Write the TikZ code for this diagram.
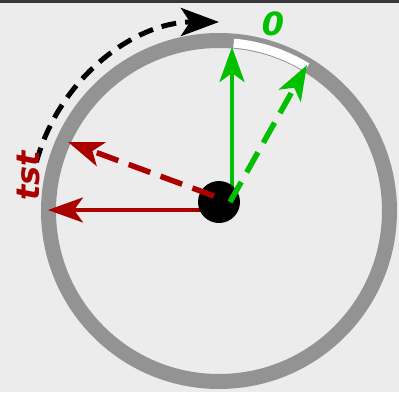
\documentclass[tikz,border=0pt]{standalone}
\usepackage{fontspec}
\setsansfont{DejaVu Sans}
\usetikzlibrary{arrows.meta,calc}
\definecolor{bgGrey}{RGB}{236,236,236}
\definecolor{ringGrey}{RGB}{147,147,147}
\definecolor{frameGrey}{RGB}{55,55,55}
\definecolor{dirGreen}{RGB}{0,192,0}
\definecolor{dirRed}{RGB}{170,0,0}
\tikzset{dialpanel/.style={
  x=1pt, y=1pt,
  ring/.style={draw=ringGrey, line width=15pt},
  gap/.style={draw=white, line width=9pt},
  hubdot/.style={circle, fill=black, draw=none, minimum size=42pt, inner sep=0pt},
  ray/.style={-{Stealth[length=35pt, width=25pt, inset=9pt]}, line width=4pt},
  dashray/.style={ray, line width=5.5pt, dash pattern=on 23pt off 11pt},
  sweep/.style={-{Stealth[length=38pt, width=28pt, inset=9pt]}, line width=5pt, dash pattern=on 15pt off 9pt},
  lab/.style={font=\fontsize{32}{32}\selectfont\sffamily\bfseries\itshape, inner sep=0pt},
}}

\begin{document}
\begin{tikzpicture}[dialpanel]
% ---- frame ----
\useasboundingbox[fill=bgGrey] (-219,-181) rectangle (180,211);
\draw[frameGrey, line width=3pt] (-219,209.5) -- (180,209.5);

% ---- dial ring with the zero gap ----
\draw[ring] (0,0) circle[radius=170.5];
\draw[gap] (58.5:168.5) arc[start angle=58.5, end angle=85, radius=168.5];

% ---- end points ----
\coordinate (gTop)  at (13,164);
\coordinate (gTilt) at (88,146);
\coordinate (rLeft) at (-171,1);
\coordinate (rTilt) at (-151,69);

% ---- solid rays (under the hub) ----
\draw[ray, dirGreen] (13,9) -- (gTop);
\draw[ray, dirRed]   (0,1)  -- (rLeft);

% ---- hub ----
\node[hubdot] (hub) at (0,9) {};

% ---- dashed rays (over the hub) ----
\draw[dashray, dirGreen] ($(hub.center)+(11,0)$) -- (gTilt);
\draw[dashray, dirRed]   ($(hub.center)+(-5,6)$) -- (rTilt);

% ---- sweep arrow ----
\draw[sweep] (165:189) arc[start angle=165, end angle=90, radius=189];

% ---- labels ----
\node[lab, text=dirGreen] (zero) at (54,187) {0};
\node[lab, text=dirRed, rotate=90] (tstlab) at (-191,35) {tst};
\end{tikzpicture}
\end{document}
